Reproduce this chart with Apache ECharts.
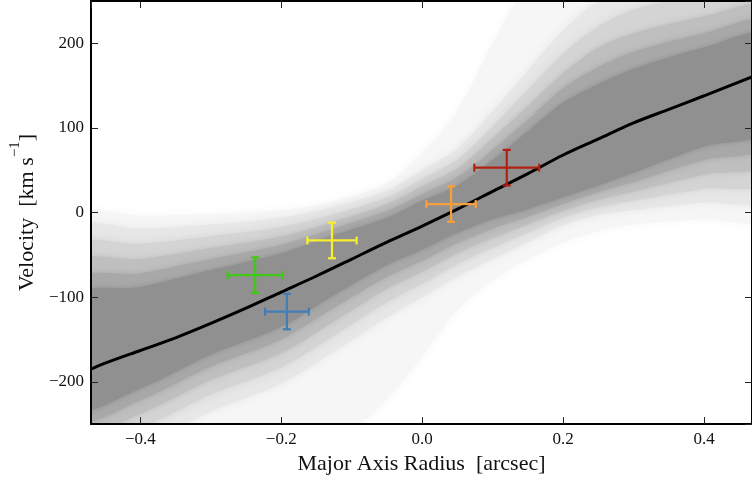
<!DOCTYPE html>
<html>
<head>
<meta charset="utf-8">
<script src="https://cdn.jsdelivr.net/npm/echarts@6/dist/echarts.min.js"></script>
<style>html,body{margin:0;padding:0;background:#fff;}#c{width:752px;height:480px;}</style>
</head>
<body>
<div id="c"></div>
<script>
// ---- data ----
const xTickLabels = ['−0.4', '−0.2', '0.0', '0.2', '0.4'];
const yTickLabels = ['−200', '−100', '0', '100', '200'];

// best-fit model curve
const lineX = [-0.47, -0.45, -0.40, -0.35, -0.30, -0.25, -0.20, -0.15, -0.10, -0.05, 0.00, 0.05, 0.10, 0.15, 0.20, 0.25, 0.30, 0.35, 0.40, 0.47];
const lineY = [-185, -178, -163, -148, -131, -113, -94, -75, -55, -35, -16, 4, 25, 46, 68, 87, 106, 122, 138, 161];

// model-sample envelopes (grey shading), from darkest (core) to faintest (fan)
const bandX  = [-0.49, -0.40, -0.30, -0.20, -0.13, -0.05, 0.00, 0.05, 0.10, 0.15, 0.20, 0.25, 0.30, 0.40, 0.49];
const coreHi = [-98, -88, -68, -48, -28, -6, 14, 32, 62, 96, 130, 152, 170, 195, 210];
const coreLo = [-232, -208, -168, -135, -100, -62, -44, -24, -8, 4, 18, 32, 47, 78, 97];
const l5Hi   = [-80, -72, -55, -38, -20, 2, 22, 42, 74, 110, 147, 172, 190, 212, 225];
const l5Lo   = [-245, -222, -182, -150, -115, -76, -57, -36, -19, -5, 10, 24, 36, 62, 80];
const l4Hi   = [-60, -55, -42, -28, -12, 10, 31, 52, 88, 126, 165, 195, 212, 232, 242];
const l4Lo   = [-260, -238, -198, -166, -131, -90, -70, -48, -30, -14, 2, 15, 25, 45, 60];
const l3Hi   = [-40, -37, -28, -17, -3, 18, 40, 63, 102, 145, 188, 220, 240, 258, 262];
const l3Lo   = [-275, -255, -215, -183, -148, -106, -84, -61, -42, -24, -6, 6, 14, 28, 38];
const l2Hi   = [-20, -19, -14, -6, 6, 26, 50, 76, 120, 168, 215, 250, 265, 270, 275];
const l2Lo   = [-295, -275, -235, -202, -167, -124, -100, -76, -55, -35, -15, -3, 3, 12, 18];
const fanHi  = [-5, -4, -2, 3, 12, 35, 70, 120, 200, 270, 300, 300, 300, 300, 300];
const fanLo  = [-300, -300, -300, -300, -280, -220, -170, -115, -80, -55, -35, -22, -14, -8, -5];

// measured points with error bars
const ptX = [-0.237, -0.192, -0.128, 0.041, 0.120];
const ptY = [-74, -117, -33, 10, 53];
const ptXErr = [0.039, 0.031, 0.035, 0.035, 0.046];
const ptYErr = [21, 21, 21, 21, 21];
const ptColors = ['#3fc814', '#417eb8', '#f7ee2c', '#f5a03c', '#b3200f'];

// ---- chart ----
const serif = 'Liberation Serif';
const chart = echarts.init(document.getElementById('c'), null, {renderer: 'canvas'});

function band(lo, hi, color, blur) {
  return {
    type: 'custom', clip: true, silent: true, z: 1,
    data: bandX.map((x, i) => [x, lo[i], hi[i]]),
    encode: {x: 0, y: [1, 2]},
    renderItem: function (params, api) {
      if (params.dataIndex !== 0) return null;
      const n = params.dataInsideLength;
      const top = [], bot = [];
      for (let k = 0; k < n; k++) {
        const x = api.value(0, k);
        bot.push(api.coord([x, api.value(1, k)]));
        top.push(api.coord([x, api.value(2, k)]));
      }
      return {
        type: 'polygon',
        shape: {points: bot.concat(top.reverse()), smooth: 0.3},
        style: {fill: color, shadowBlur: blur, shadowColor: color}
      };
    }
  };
}

function fmt(v, d) {
  return v.toFixed(d).replace('-', '−');
}

const axisLineStyle = {show: true, onZero: false, lineStyle: {color: '#000', width: 2}};
const tickStyle = {show: true, inside: true, length: 7, lineStyle: {color: '#222', width: 1}};

const option = {
  backgroundColor: '#fff',
  animation: false,
  grid: {left: 88, right: -2, top: 1, bottom: 54},
  xAxis: [
    {type: 'value', min: -0.47, max: 0.468, minInterval: 0.2, maxInterval: 0.2, position: 'bottom', z: 10,
     axisLine: axisLineStyle, axisTick: tickStyle, splitLine: {show: false},
     axisLabel: {show: true, margin: 7, fontFamily: serif, fontSize: 17, color: '#111',
       showMinLabel: false, showMaxLabel: false,
       formatter: v => { const s = fmt(v, 1); return xTickLabels.includes(s) ? s : ''; }},
     name: 'Major Axis Radius  [arcsec]', nameLocation: 'middle', nameGap: 27,
     nameTextStyle: {fontFamily: serif, fontSize: 22, color: '#111'}},
    {type: 'value', min: -0.47, max: 0.468, minInterval: 0.2, maxInterval: 0.2, position: 'top', z: 10,
     axisLine: axisLineStyle, axisTick: tickStyle, splitLine: {show: false}, axisLabel: {show: false}}
  ],
  yAxis: [
    {type: 'value', min: -250, max: 250, minInterval: 100, maxInterval: 100, position: 'left', z: 10,
     axisLine: axisLineStyle, axisTick: tickStyle, splitLine: {show: false},
     axisLabel: {show: true, margin: 7, fontFamily: serif, fontSize: 17, color: '#111',
       showMinLabel: false, showMaxLabel: false,
       formatter: v => { const s = fmt(v, 0); return yTickLabels.includes(s) ? s : ''; }},
     name: '{a|Velocity  [km s}{s|−1}{a|]}', nameLocation: 'middle', nameGap: 52, nameRotate: 90,
     nameTextStyle: {fontFamily: serif, fontSize: 22, color: '#111',
       rich: {a: {fontFamily: serif, fontSize: 22, color: '#111', lineHeight: 30, verticalAlign: 'bottom'},
              s: {fontFamily: serif, fontSize: 15, color: '#111', lineHeight: 30, verticalAlign: 'top'}}}},
    {type: 'value', min: -250, max: 250, minInterval: 100, maxInterval: 100, position: 'right', z: 10,
     axisLine: axisLineStyle, axisTick: tickStyle, splitLine: {show: false}, axisLabel: {show: false}}
  ],
  series: [
    band(fanLo, fanHi, '#f6f6f6', 10),
    band(l2Lo, l2Hi, '#e7e7e7', 8),
    band(l3Lo, l3Hi, '#d4d4d4', 8),
    band(l4Lo, l4Hi, '#bfbfbf', 6),
    band(l5Lo, l5Hi, '#a8a8a8', 6),
    band(coreLo, coreHi, '#909090', 5),
    {type: 'line', symbol: 'none', smooth: 0.3, silent: true, z: 3,
     lineStyle: {color: '#000', width: 3}, data: lineX.map((x, i) => [x, lineY[i]])},
    {type: 'custom', z: 4, silent: true,
     data: ptX.map((x, i) => [x, ptY[i], ptXErr[i], ptYErr[i]]),
     encode: {x: 0, y: 1},
     renderItem: function (params, api) {
       const i = params.dataIndex;
       const x = api.value(0), y = api.value(1), xe = api.value(2), ye = api.value(3);
       const l = api.coord([x - xe, y]), r = api.coord([x + xe, y]);
       const t = api.coord([x, y + ye]), b = api.coord([x, y - ye]);
       const cap = 4;
       const st = {stroke: ptColors[i], lineWidth: 2.2};
       const seg = (x1, y1, x2, y2) => ({type: 'line', shape: {x1, y1, x2, y2}, style: st});
       return {type: 'group', children: [
         seg(l[0], l[1], r[0], r[1]),
         seg(t[0], t[1], b[0], b[1]),
         seg(l[0], l[1] - cap, l[0], l[1] + cap),
         seg(r[0], r[1] - cap, r[0], r[1] + cap),
         seg(t[0] - cap, t[1], t[0] + cap, t[1]),
         seg(b[0] - cap, b[1], b[0] + cap, b[1])
       ]};
     }}
  ]
};
chart.setOption(option);
</script>
</body>
</html>
